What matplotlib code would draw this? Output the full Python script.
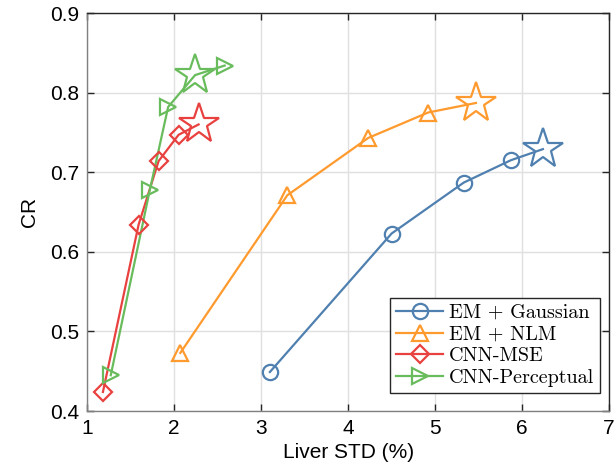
import matplotlib
matplotlib.use("Agg")
import matplotlib.pyplot as plt

# Data
labels = ["EM + Gaussian", "EM + NLM", "CNN-MSE", "CNN-Perceptual"]
gauss_x = [3.10, 4.50, 5.33, 5.87, 6.24]
gauss_y = [0.449, 0.623, 0.687, 0.715, 0.729]
nlm_x = [2.07, 3.30, 4.23, 4.92, 5.47]
nlm_y = [0.473, 0.671, 0.743, 0.775, 0.787]
mse_x = [1.18, 1.59, 1.82, 2.05, 2.28]
mse_y = [0.424, 0.634, 0.714, 0.747, 0.760]
perc_x = [1.27, 1.72, 1.93, 2.58, 2.24]
perc_y = [0.445, 0.678, 0.782, 0.834, 0.822]
# last point of gauss/nlm/mse is the star; for perceptual the star is index 4
xticks = [1, 2, 3, 4, 5, 6, 7]
yticks = [0.4, 0.5, 0.6, 0.7, 0.8, 0.9]

colors = ["#4f80b0", "#ff9a2e", "#e8413f", "#69bc5c"]
markers = ["o", "^", "D", ">"]
msizes = [11, 12, 9, 12]

fig = plt.figure(figsize=(6.16, 4.75), dpi=100)
ax = fig.add_axes([0.1417, 0.1347, 0.8469, 0.8379])

series = [
    (gauss_x, gauss_y, [0, 1, 2, 3], [0, 1, 2, 3, 4], 4),
    (nlm_x, nlm_y, [0, 1, 2, 3], [0, 1, 2, 3, 4], 4),
    (mse_x, mse_y, [0, 1, 2, 3], [0, 1, 2, 3, 4], 4),
    (perc_x, perc_y, [0, 1, 2, 3], [0, 1, 2, 4, 3], 4),
]
handles = []
for (xs, ys, mk_idx, line_order, star_i), c, m, ms, lab in zip(series, colors, markers, msizes, labels):
    lx = [xs[i] for i in line_order]
    ly = [ys[i] for i in line_order]
    ax.plot(lx, ly, color=c, lw=1.6, zorder=3)
    ax.plot([xs[i] for i in mk_idx], [ys[i] for i in mk_idx], linestyle='none',
            marker=m, ms=ms, mfc='none', mec=c, mew=1.6, zorder=4)
    ax.plot([xs[star_i]], [ys[star_i]], linestyle='none', marker='*', ms=30,
            mfc='none', mec=c, mew=1.6, zorder=4)
    hl, = ax.plot([], [], color=c, lw=1.6, marker=m, ms=ms,
                  mfc='none', mec=c, mew=1.6, label=lab)
    handles.append(hl)

ax.set_xlim(1, 7)
ax.set_ylim(0.4, 0.9)
ax.set_xticks(xticks)
ax.set_yticks(yticks)
ax.set_xticklabels([str(t) for t in xticks], family="Liberation Sans", fontsize=15)
ax.set_yticklabels(["%.1f" % t for t in yticks], family="Liberation Sans", fontsize=15)
ax.grid(True, color="#e0e0e0", lw=1.0, zorder=0)
ax.set_axisbelow(True)
ax.tick_params(direction="in", top=True, right=True, length=5, width=1.0, color="#262626", pad=6)
for name, s in ax.spines.items():
    s.set_color("#808080" if name in ("left", "bottom") else "#262626")
    s.set_linewidth(1.0)
ax.set_xlabel("Liver STD (%)", family="Liberation Sans", fontsize=15, labelpad=3)
ax.set_ylabel("CR", family="Liberation Sans", fontsize=15, labelpad=8)

leg = ax.legend(handles=handles, loc="lower right", bbox_to_anchor=(0.983, 0.045),
                prop={"family": "cmr10", "size": 14.5},
                frameon=True, fancybox=False, edgecolor="#262626", framealpha=1,
                borderpad=0.3, labelspacing=0.18, handlelength=2.3, handletextpad=0.3,
                borderaxespad=0.0)
leg.get_frame().set_linewidth(1.0)

fig.savefig("out.png", dpi=100)
